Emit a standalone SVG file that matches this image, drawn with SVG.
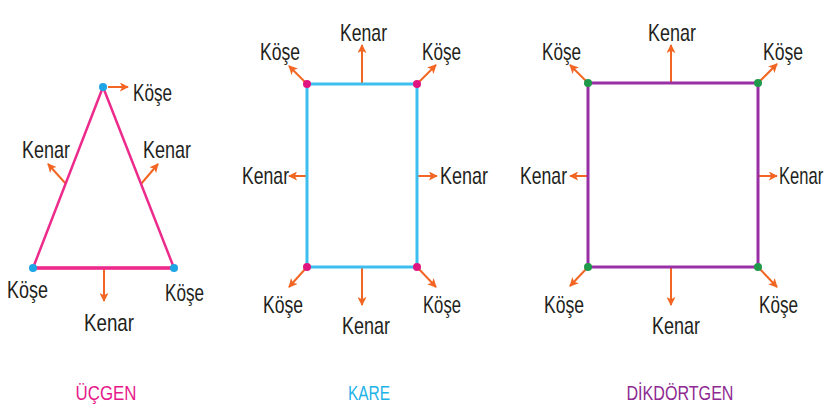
<svg xmlns="http://www.w3.org/2000/svg" width="828" height="416" viewBox="0 0 828 416">
<style>
.lbl{font-family:"Liberation Sans",Arial,sans-serif;font-size:24px;fill:#231f20}
.ttl{font-family:"Liberation Sans",Arial,sans-serif;font-size:20px}
.arr{stroke:#f26522;stroke-width:2;fill:none;marker-end:url(#ah)}
</style>
<defs>
<marker id="ah" viewBox="0 0 10 10" refX="9" refY="5" markerWidth="9" markerHeight="9" markerUnits="userSpaceOnUse" orient="auto">
<path d="M0,0 L10,5 L0,10 L2.5,5 Z" fill="#f26522"/>
</marker>
</defs>
<rect width="828" height="416" fill="#fff"/>

<g id="connectors">
<line class="arr" x1="108" y1="87" x2="128" y2="87"/>
<line class="arr" x1="66" y1="184" x2="48" y2="164"/>
<line class="arr" x1="141" y1="184" x2="158" y2="164"/>
<line class="arr" x1="104" y1="268" x2="104" y2="301"/>
<line class="arr" x1="307" y1="84" x2="289" y2="66"/>
<line class="arr" x1="362" y1="84" x2="362" y2="45"/>
<line class="arr" x1="417" y1="84" x2="436" y2="65"/>
<line class="arr" x1="307" y1="176" x2="289" y2="176"/>
<line class="arr" x1="417" y1="176" x2="437" y2="176"/>
<line class="arr" x1="307" y1="267" x2="289" y2="287"/>
<line class="arr" x1="362" y1="267" x2="362" y2="305"/>
<line class="arr" x1="417" y1="267" x2="436" y2="287"/>
<line class="arr" x1="588" y1="83" x2="570" y2="65"/>
<line class="arr" x1="671" y1="83" x2="671" y2="45"/>
<line class="arr" x1="758" y1="83" x2="777" y2="64"/>
<line class="arr" x1="588" y1="176" x2="570" y2="176"/>
<line class="arr" x1="758" y1="176" x2="777" y2="176"/>
<line class="arr" x1="588" y1="267" x2="570" y2="286"/>
<line class="arr" x1="671" y1="267" x2="671" y2="305"/>
<line class="arr" x1="758" y1="267" x2="777" y2="287"/>
</g>

<g id="ucgen">
<polygon points="103,87 33,268 174,268" fill="none" stroke="#ec2b8c" stroke-width="2.5" stroke-linejoin="round"/>
<line x1="33" y1="268" x2="174" y2="268" stroke="#ec2b8c" stroke-width="3.5"/>
<circle cx="103" cy="87" r="4" fill="#1ea5e6"/>
<circle cx="33" cy="268" r="4" fill="#1ea5e6"/>
<circle cx="174" cy="268" r="4" fill="#1ea5e6"/>
<text class="lbl" x="133" y="101" textLength="39" lengthAdjust="spacingAndGlyphs">Köşe</text>
<text class="lbl" x="22" y="158" textLength="48" lengthAdjust="spacingAndGlyphs">Kenar</text>
<text class="lbl" x="143" y="158" textLength="48" lengthAdjust="spacingAndGlyphs">Kenar</text>
<text class="lbl" x="7" y="298" textLength="41" lengthAdjust="spacingAndGlyphs">Köşe</text>
<text class="lbl" x="165" y="301" textLength="39" lengthAdjust="spacingAndGlyphs">Köşe</text>
<text class="lbl" x="84" y="331" textLength="50" lengthAdjust="spacingAndGlyphs">Kenar</text>
<text class="ttl" x="106" y="400" text-anchor="middle" fill="#e6198a" textLength="61" lengthAdjust="spacingAndGlyphs">ÜÇGEN</text>
</g>

<g id="kare">
<rect x="307" y="84" width="110" height="183" fill="none" stroke="#3cbfee" stroke-width="3"/>
<circle cx="307" cy="84" r="4" fill="#e0157f"/>
<circle cx="417" cy="84" r="4" fill="#e0157f"/>
<circle cx="307" cy="267" r="4" fill="#e0157f"/>
<circle cx="417" cy="267" r="4" fill="#e0157f"/>
<text class="lbl" x="340" y="41" textLength="47" lengthAdjust="spacingAndGlyphs">Kenar</text>
<text class="lbl" x="260" y="60" textLength="40" lengthAdjust="spacingAndGlyphs">Köşe</text>
<text class="lbl" x="422" y="60" textLength="39" lengthAdjust="spacingAndGlyphs">Köşe</text>
<text class="lbl" x="242" y="184" textLength="47" lengthAdjust="spacingAndGlyphs">Kenar</text>
<text class="lbl" x="440" y="184" textLength="48" lengthAdjust="spacingAndGlyphs">Kenar</text>
<text class="lbl" x="263" y="313" textLength="40" lengthAdjust="spacingAndGlyphs">Köşe</text>
<text class="lbl" x="423" y="313" textLength="38" lengthAdjust="spacingAndGlyphs">Köşe</text>
<text class="lbl" x="342" y="334" textLength="48" lengthAdjust="spacingAndGlyphs">Kenar</text>
<text class="ttl" x="369" y="400" text-anchor="middle" fill="#1fb3e8" textLength="42" lengthAdjust="spacingAndGlyphs">KARE</text>
</g>

<g id="dikdortgen">
<rect x="588" y="83" width="170" height="184" fill="none" stroke="#9a2fa5" stroke-width="3"/>
<circle cx="588" cy="83" r="4" fill="#1f9a4a"/>
<circle cx="758" cy="83" r="4" fill="#1f9a4a"/>
<circle cx="588" cy="267" r="4" fill="#1f9a4a"/>
<circle cx="758" cy="267" r="4" fill="#1f9a4a"/>
<text class="lbl" x="648" y="41" textLength="48" lengthAdjust="spacingAndGlyphs">Kenar</text>
<text class="lbl" x="542" y="60" textLength="39" lengthAdjust="spacingAndGlyphs">Köşe</text>
<text class="lbl" x="763" y="60" textLength="40" lengthAdjust="spacingAndGlyphs">Köşe</text>
<text class="lbl" x="520" y="184" textLength="47" lengthAdjust="spacingAndGlyphs">Kenar</text>
<text class="lbl" transform="translate(779,184) scale(0.69,1)" x="0" y="0">Kenar</text>
<text class="lbl" x="544" y="313" textLength="40" lengthAdjust="spacingAndGlyphs">Köşe</text>
<text class="lbl" x="759" y="313" textLength="39" lengthAdjust="spacingAndGlyphs">Köşe</text>
<text class="lbl" x="652" y="334" textLength="48" lengthAdjust="spacingAndGlyphs">Kenar</text>
<text class="ttl" x="680" y="400" text-anchor="middle" fill="#8e2a92" textLength="107" lengthAdjust="spacingAndGlyphs">DİKDÖRTGEN</text>
</g>
</svg>
